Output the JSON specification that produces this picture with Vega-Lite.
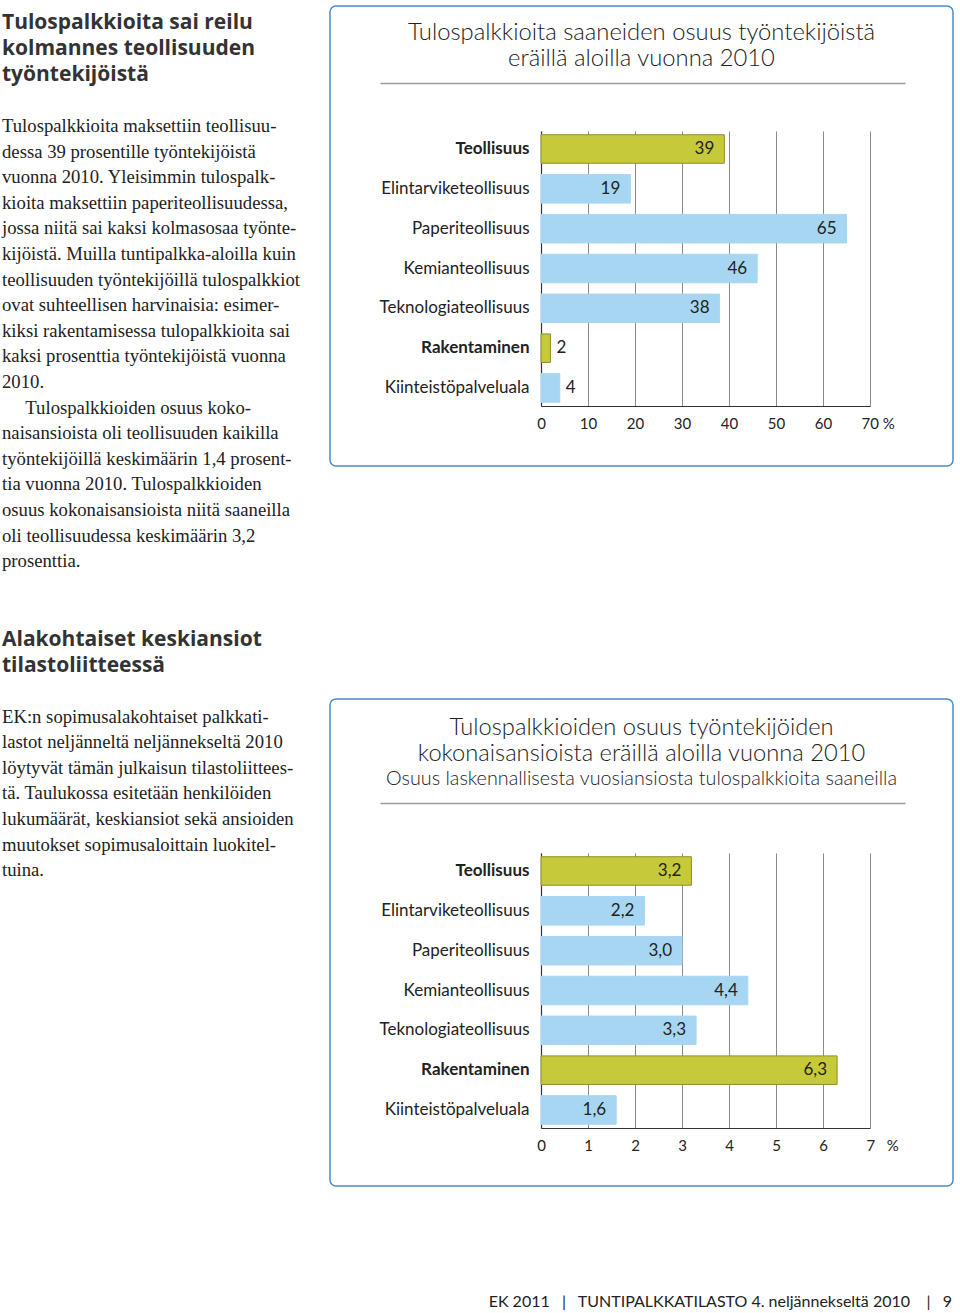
{
  "$schema": "https://vega.github.io/schema/vega-lite/v6.json",
  "padding": {"left": 2, "top": 5, "right": 0, "bottom": 0},
  "background": "white",
  "config": {
    "font": "Lato",
    "view": {"stroke": null},
    "locale": {"number": {"decimal": ",", "thousands": "\u00a0", "grouping": [3], "currency": ["", "\u00a0€"]}}
  },
  "datasets": {
    "share": [
      {"ala": "Teollisuus", "osuus": 39},
      {"ala": "Elintarviketeollisuus", "osuus": 19},
      {"ala": "Paperiteollisuus", "osuus": 65},
      {"ala": "Kemianteollisuus", "osuus": 46},
      {"ala": "Teknologiateollisuus", "osuus": 38},
      {"ala": "Rakentaminen", "osuus": 2},
      {"ala": "Kiinteistöpalveluala", "osuus": 4}
    ],
    "income": [
      {"ala": "Teollisuus", "osuus": 3.2},
      {"ala": "Elintarviketeollisuus", "osuus": 2.2},
      {"ala": "Paperiteollisuus", "osuus": 3.0},
      {"ala": "Kemianteollisuus", "osuus": 4.4},
      {"ala": "Teknologiateollisuus", "osuus": 3.3},
      {"ala": "Rakentaminen", "osuus": 6.3},
      {"ala": "Kiinteistöpalveluala", "osuus": 1.6}
    ],
    "blank": []
  },
  "vconcat": [
    {
      "hconcat": [
        {
          "vconcat": [
            {
              "width": 300, "height": 1,
              "view": {"stroke": null},
              "data": {"name": "blank"},
              "mark": {"type": "text", "text": ""},
              "encoding": {},
              "title": {
                "text": ["Tulospalkkioita sai reilu", "kolmannes teollisuuden", "työntekijöistä"],
                "subtitle": [
                  "Tulospalkkioita maksettiin teollisuu-",
                  "dessa 39 prosentille työntekijöistä",
                  "vuonna 2010. Yleisimmin tulospalk-",
                  "kioita maksettiin paperiteollisuudessa,",
                  "jossa niitä sai kaksi kolmasosaa työnte-",
                  "kijöistä. Muilla tuntipalkka-aloilla kuin",
                  "teollisuuden työntekijöillä tulospalkkiot",
                  "ovat suhteellisen harvinaisia: esimer-",
                  "kiksi rakentamisessa tulopalkkioita sai",
                  "kaksi prosenttia työntekijöistä vuonna",
                  "2010.",
                  "\u200b\u00a0\u00a0\u00a0\u00a0\u00a0Tulospalkkioiden osuus koko-",
                  "naisansioista oli teollisuuden kaikilla",
                  "työntekijöillä keskimäärin 1,4 prosent-",
                  "tia vuonna 2010. Tulospalkkioiden",
                  "osuus kokonaisansioista niitä saaneilla",
                  "oli teollisuudessa keskimäärin 3,2",
                  "prosenttia."
                ],
                "orient": "bottom", "anchor": "start", "frame": "group", "offset": 5,
                "font": "Open Sans", "fontSize": 21, "fontWeight": "bold", "lineHeight": 26, "color": "#333333",
                "subtitleFont": "Liberation Serif", "subtitleFontSize": 18.7, "subtitleLineHeight": 25.6,
                "subtitleColor": "#222222", "subtitlePadding": 32
              }
            },
            {
              "width": 300, "height": 1,
              "view": {"stroke": null},
              "data": {"name": "blank"},
              "mark": {"type": "text", "text": ""},
              "encoding": {},
              "title": {
                "text": ["Alakohtaiset keskiansiot", "tilastoliitteessä"],
                "subtitle": [
                  "EK:n sopimusalakohtaiset palkkati-",
                  "lastot neljänneltä neljännekseltä 2010",
                  "löytyvät tämän julkaisun tilastoliittees-",
                  "tä. Taulukossa esitetään henkilöiden",
                  "lukumäärät, keskiansiot sekä ansioiden",
                  "muutokset sopimusaloittain luokitel-",
                  "tuina."
                ],
                "orient": "bottom", "anchor": "start", "frame": "group", "offset": 5,
                "font": "Open Sans", "fontSize": 21, "fontWeight": "bold", "lineHeight": 26, "color": "#333333",
                "subtitleFont": "Liberation Serif", "subtitleFontSize": 18.7, "subtitleLineHeight": 25.6,
                "subtitleColor": "#222222", "subtitlePadding": 32
              }
            }
          ],
          "spacing": 51.5
        },
        {
          "vconcat": [
            {
              "width": 623, "height": 460,
              "view": {"stroke": "#4a8cc9", "strokeWidth": 1.5, "cornerRadius": 6},
              "data": {"name": "share"},
              "title": {
                "text": ["Tulospalkkioita saaneiden osuus työntekijöistä", "eräillä aloilla vuonna 2010"],
                "anchor": "middle", "frame": "group", "offset": -65,
                "font": "Lato", "fontSize": 23.8, "fontWeight": 300, "lineHeight": 26, "color": "#222222"
              },
              "layer": [
                {
                  "layer": [
                    {
                      "mark": {"type": "bar", "strokeWidth": 1},
                      "encoding": {
                        "y": {"field": "ala", "type": "nominal", "sort": null,
                          "scale": {"range": [125, 400], "paddingInner": 0.284, "paddingOuter": 0.094},
                          "axis": {"orient": "left", "offset": -211, "title": null, "ticks": false, "grid": false,
                            "domain": true, "domainColor": "#333333", "domainWidth": 1.2,
                            "labelPadding": 12, "labelFontSize": 17, "labelColor": "#222222", "labelLimit": 300,
                            "labelFontWeight": {"condition": {"test": "datum.value === 'Teollisuus' || datum.value === 'Rakentaminen'", "value": "bold"}, "value": "normal"}}},
                        "x": {"field": "osuus", "type": "quantitative",
                          "scale": {"domain": [0, 70], "range": [211, 540], "nice": false},
                          "axis": {"orient": "top", "offset": -400, "title": null, "values": [0, 10, 20, 30, 40, 50, 60, 70],
                            "grid": true, "gridColor": "#8a8a8a", "gridWidth": 1, "ticks": false, "tickSize": 0,
                            "domain": true, "domainColor": "#333333", "domainWidth": 1.2,
                            "labelPadding": -10, "labelBaseline": "top", "labelFlush": false, "format": "d",
                            "labelFontSize": 15, "labelColor": "#222222",
                            "labelExpr": "datum.value == 70 ? '70 %' : datum.label",
                            "labelAlign": {"condition": {"test": "datum.value == 70", "value": "left"}, "value": "center"},
                            "labelOffset": {"condition": {"test": "datum.value == 70", "value": -9}, "value": 0}}},
                        "color": {"condition": {"test": "datum.ala === 'Teollisuus' || datum.ala === 'Rakentaminen'", "value": "#c6c93a"}, "value": "#a7d6f3"},
                        "stroke": {"condition": {"test": "datum.ala === 'Teollisuus' || datum.ala === 'Rakentaminen'", "value": "#8c8f2a"}, "value": "#a7d6f3"}
                      }
                    },
                    {
                      "transform": [{"filter": "datum.osuus >= 10"}],
                      "mark": {"type": "text", "align": "right", "baseline": "middle", "dx": -10, "fontSize": 17, "color": "#222222"},
                      "encoding": {
                        "y": {"field": "ala", "type": "nominal", "sort": null},
                        "x": {"field": "osuus", "type": "quantitative"},
                        "text": {"field": "osuus", "type": "quantitative", "format": "d"}
                      }
                    },
                    {
                      "transform": [{"filter": "datum.osuus < 10"}],
                      "mark": {"type": "text", "align": "left", "baseline": "middle", "dx": 6, "fontSize": 17, "color": "#222222"},
                      "encoding": {
                        "y": {"field": "ala", "type": "nominal", "sort": null},
                        "x": {"field": "osuus", "type": "quantitative"},
                        "text": {"field": "osuus", "type": "quantitative", "format": "d"}
                      }
                    }
                  ]
                },
                {
                  "mark": {"type": "point", "opacity": 0},
                  "encoding": {
                    "x": {"field": "osuus", "type": "quantitative",
                      "scale": {"domain": [0, 1], "range": [50, 575], "nice": false},
                      "axis": {"orient": "top", "offset": -77, "title": null, "labels": false, "ticks": false, "grid": false,
                        "domain": true, "domainColor": "#9a9a9a", "domainWidth": 1.5}}
                  }
                }
              ],
              "resolve": {"scale": {"x": "independent"}, "axis": {"x": "independent"}}
            },
            {
              "width": 623, "height": 487,
              "view": {"stroke": "#4a8cc9", "strokeWidth": 1.5, "cornerRadius": 6},
              "data": {"name": "income"},
              "title": {
                "text": ["Tulospalkkioiden osuus työntekijöiden", "kokonaisansioista eräillä aloilla vuonna 2010"],
                "subtitle": "Osuus laskennallisesta vuosiansiosta tulospalkkioita saaneilla",
                "anchor": "middle", "frame": "group", "offset": -90,
                "font": "Lato", "fontSize": 23.7, "fontWeight": 300, "lineHeight": 26, "color": "#222222",
                "subtitleFont": "Lato", "subtitleFontSize": 19.8, "subtitleFontWeight": 300, "subtitleColor": "#222222", "subtitlePadding": 4
              },
              "layer": [
                {
                  "layer": [
                    {
                      "mark": {"type": "bar", "strokeWidth": 1},
                      "encoding": {
                        "y": {"field": "ala", "type": "nominal", "sort": null,
                          "scale": {"range": [154, 429], "paddingInner": 0.284, "paddingOuter": 0.094},
                          "axis": {"orient": "left", "offset": -211, "title": null, "ticks": false, "grid": false,
                            "domain": true, "domainColor": "#333333", "domainWidth": 1.2,
                            "labelPadding": 12, "labelFontSize": 17, "labelColor": "#222222", "labelLimit": 300,
                            "labelFontWeight": {"condition": {"test": "datum.value === 'Teollisuus' || datum.value === 'Rakentaminen'", "value": "bold"}, "value": "normal"}}},
                        "x": {"field": "osuus", "type": "quantitative",
                          "scale": {"domain": [0, 7], "range": [211, 540], "nice": false},
                          "axis": {"orient": "top", "offset": -429, "title": null, "values": [0, 1, 2, 3, 4, 5, 6, 7],
                            "grid": true, "gridColor": "#8a8a8a", "gridWidth": 1, "ticks": false, "tickSize": 0,
                            "domain": true, "domainColor": "#333333", "domainWidth": 1.2,
                            "labelPadding": -10, "labelBaseline": "top", "labelFlush": false, "format": "d",
                            "labelFontSize": 15, "labelColor": "#222222",
                            "labelExpr": "datum.value == 7 ? '7\u00a0\u00a0\u00a0%' : datum.label",
                            "labelAlign": {"condition": {"test": "datum.value == 7", "value": "left"}, "value": "center"},
                            "labelOffset": {"condition": {"test": "datum.value == 7", "value": -4}, "value": 0}}},
                        "color": {"condition": {"test": "datum.ala === 'Teollisuus' || datum.ala === 'Rakentaminen'", "value": "#c6c93a"}, "value": "#a7d6f3"},
                        "stroke": {"condition": {"test": "datum.ala === 'Teollisuus' || datum.ala === 'Rakentaminen'", "value": "#8c8f2a"}, "value": "#a7d6f3"}
                      }
                    },
                    {
                      "mark": {"type": "text", "align": "right", "baseline": "middle", "dx": -10, "fontSize": 17, "color": "#222222"},
                      "encoding": {
                        "y": {"field": "ala", "type": "nominal", "sort": null},
                        "x": {"field": "osuus", "type": "quantitative"},
                        "text": {"field": "osuus", "type": "quantitative", "format": ".1f"}
                      }
                    }
                  ]
                },
                {
                  "mark": {"type": "point", "opacity": 0},
                  "encoding": {
                    "x": {"field": "osuus", "type": "quantitative",
                      "scale": {"domain": [0, 1], "range": [50, 575], "nice": false},
                      "axis": {"orient": "top", "offset": -104, "title": null, "labels": false, "ticks": false, "grid": false,
                        "domain": true, "domainColor": "#9a9a9a", "domainWidth": 1.5}}
                  }
                }
              ],
              "resolve": {"scale": {"x": "independent"}, "axis": {"x": "independent"}}
            }
          ],
          "spacing": 231
        }
      ],
      "spacing": 27
    },
    {
      "width": 950, "height": 1,
      "view": {"stroke": null},
      "data": {"name": "blank"},
      "mark": {"type": "text", "text": ""},
      "encoding": {},
      "title": {
        "text": "EK 2011\u00a0\u00a0\u00a0|\u00a0\u00a0\u00a0TUNTIPALKKATILASTO 4. neljännekseltä 2010\u00a0\u00a0\u00a0\u00a0|\u00a0\u00a0\u00a09",
        "anchor": "end", "frame": "group", "offset": 0,
        "font": "Lato", "fontSize": 16, "fontWeight": "normal", "color": "#222222"
      }
    }
  ],
  "spacing": 107
}
